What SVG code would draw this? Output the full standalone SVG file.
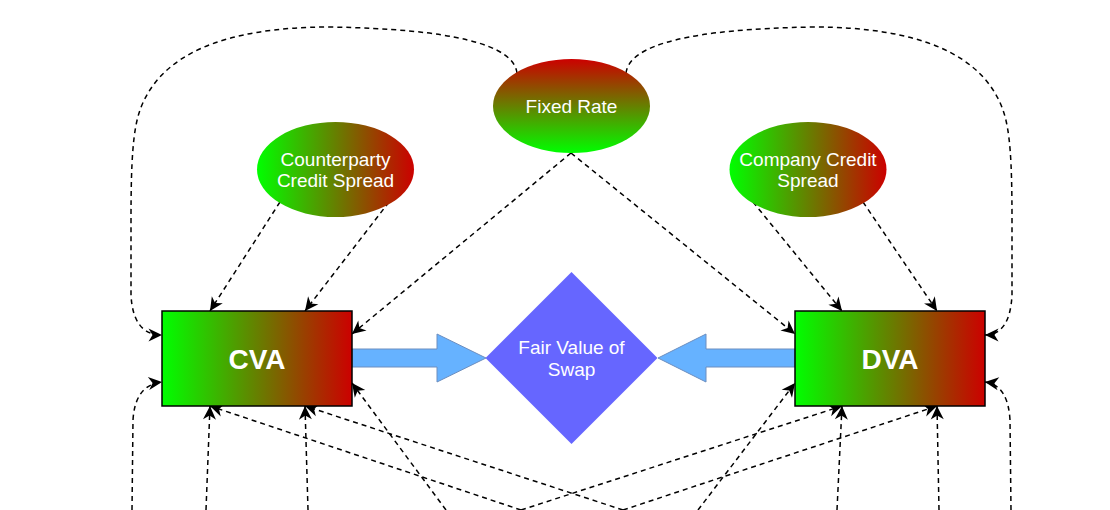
<svg xmlns="http://www.w3.org/2000/svg" width="1110" height="510" viewBox="0 0 1110 510">
  <defs>
    <linearGradient id="gh" x1="0" y1="0" x2="1" y2="0">
      <stop offset="0" stop-color="#00FF00"/>
      <stop offset="1" stop-color="#CC0000"/>
    </linearGradient>
    <linearGradient id="gv" x1="0" y1="1" x2="0" y2="0">
      <stop offset="0" stop-color="#00FF00"/>
      <stop offset="1" stop-color="#CC0000"/>
    </linearGradient>
    <marker id="arr" viewBox="-15 -8 16 16" refX="0" refY="0" markerWidth="16" markerHeight="16" markerUnits="userSpaceOnUse" orient="auto">
      <path d="M0,0 L-13.5,-6.5 L-9.5,0 L-13.5,6.5 Z" fill="#000"/>
    </marker>
    <style>
      .lbl { font-family: "Liberation Sans", Arial, sans-serif; fill: #FFFFFF; font-size: 19px; text-anchor: middle; }
      .big { font-family: "Liberation Sans", Arial, sans-serif; fill: #FFFFFF; font-size: 28px; font-weight: bold; text-anchor: middle; }
      .dash { fill: none; stroke: #000; stroke-width: 1.5; stroke-dasharray: 5 4; marker-end: url(#arr); }
      .flow { fill: #66B2FF; stroke: #6C8EBF; stroke-width: 1; }
      .box { stroke: #000; stroke-width: 1.5; fill: url(#gh); }
    </style>
  </defs>
  <rect x="0" y="0" width="1110" height="510" fill="#FFFFFF"/>

  <g id="connectors">
    <path class="dash" d="M517,73 Q512,30 330,27 Q170,27 140,110 C133,130 131,160 131,220 L131,295 Q133,335 162,335"/>
    <path class="dash" d="M626,73 Q631,30 813,27 Q973,27 1003,110 C1010,130 1012,160 1012,220 L1012,295 Q1010,335 985,335"/>
    <path class="dash" d="M280,202 L210,311"/>
    <path class="dash" d="M389,202 L305,311"/>
    <path class="dash" d="M571,153 L352,334"/>
    <path class="dash" d="M571,153 L795,334"/>
    <path class="dash" d="M753,202 L842,311"/>
    <path class="dash" d="M863,202 L937,311"/>
    <path class="dash" d="M132,510 L133,420 Q135,385 162,382"/>
    <path class="dash" d="M206,510 L210,406"/>
    <path class="dash" d="M308,510 L305,406"/>
    <path class="dash" d="M446,510 L352,383"/>
    <path class="dash" d="M521,510 L210,406"/>
    <path class="dash" d="M623,510 L305,406"/>
    <path class="dash" d="M521,510 L842,406"/>
    <path class="dash" d="M623,510 L937,406"/>
    <path class="dash" d="M698,510 L795,383"/>
    <path class="dash" d="M837,510 L842,406"/>
    <path class="dash" d="M939,510 L937,406"/>
    <path class="dash" d="M1011,510 L1010,420 Q1008,385 985,382"/>
    <polygon class="flow" points="352,349 437,349 437,334 486,358 437,382 437,367 352,367"/>
    <polygon class="flow" points="795,349 706,349 706,334 658,358 706,382 706,367 795,367"/>
  </g>

  <g id="fixed-rate">
    <ellipse cx="571.5" cy="106" rx="78.5" ry="47" fill="url(#gv)"/>
    <text class="lbl" x="571.5" y="113">Fixed Rate</text>
  </g>

  <g id="counterparty-credit-spread">
    <ellipse cx="335.5" cy="169.5" rx="78.5" ry="47.5" fill="url(#gh)"/>
    <text class="lbl" x="335.5" y="165.5">Counterparty</text>
    <text class="lbl" x="335.5" y="186.5">Credit Spread</text>
  </g>

  <g id="company-credit-spread">
    <ellipse cx="808" cy="169.5" rx="78.5" ry="47.5" fill="url(#gh)"/>
    <text class="lbl" x="808" y="165.5">Company Credit</text>
    <text class="lbl" x="808" y="186.5">Spread</text>
  </g>

  <g id="cva">
    <rect class="box" x="162" y="311" width="190" height="95"/>
    <text class="big" x="257" y="369">CVA</text>
  </g>

  <g id="dva">
    <rect class="box" x="795" y="311" width="190" height="95"/>
    <text class="big" x="890" y="369">DVA</text>
  </g>

  <g id="fair-value-of-swap">
    <polygon points="571.5,272 657.5,358 571.5,444 485.5,358" fill="#6666FF"/>
    <text class="lbl" x="571.5" y="354">Fair Value of</text>
    <text class="lbl" x="571.5" y="376">Swap</text>
  </g>
</svg>
